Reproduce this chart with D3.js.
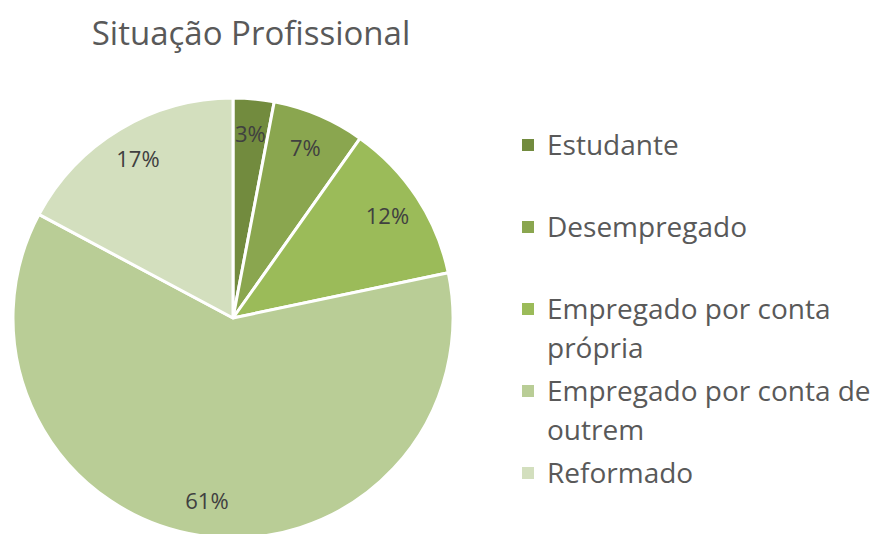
<!DOCTYPE html>
<html><head><meta charset="utf-8">
<script src="https://cdn.jsdelivr.net/npm/d3@7"></script>
<style>body{margin:0;background:#fff}svg{display:block}</style>
</head><body>
<svg id="c" width="878" height="534"></svg>
<script>
const title = "Situação Profissional";
const categories = ["Estudante","Desempregado","Empregado por conta própria","Empregado por conta de outrem","Reformado"];
const values = [3.0, 6.8, 11.9, 61.1, 17.2];
const pctLabels = ["3%","7%","12%","61%","17%"];
const legendLines = [["Estudante"],["Desempregado"],["Empregado por conta","própria"],["Empregado por conta de","outrem"],["Reformado"]];
const colors = ["#728b3e","#8aa64f","#9bbb59","#b9cd96","#d3dfbe"];

const svg = d3.select("#c");
const font = "'Open Sans', 'Liberation Sans', sans-serif";
const cx = 233, cy = 318, R = 220;

svg.append("text").attr("x", 251).attr("y", 45).attr("text-anchor","middle")
  .attr("font-family", font).attr("font-size", 33).attr("fill","#595959").text(title);

const pie = d3.pie().sort(null).value(d => d)(values);
const arc = d3.arc().innerRadius(0).outerRadius(R);
const labelArc = d3.arc().innerRadius(R*0.84).outerRadius(R*0.84);
const g = svg.append("g").attr("transform", `translate(${cx},${cy})`);
g.selectAll("path").data(pie).join("path")
  .attr("d", arc).attr("fill", (d,i) => colors[i])
  .attr("stroke","#fff").attr("stroke-width",3).attr("stroke-linejoin","round");
g.selectAll("text.lbl").data(pie).join("text").attr("class","lbl")
  .attr("transform", d => `translate(${labelArc.centroid(d)})`)
  .attr("text-anchor","middle").attr("dy","0.35em")
  .attr("font-family", font).attr("font-size", 22).attr("fill","#404040")
  .text((d,i) => pctLabels[i]);

const slot = 82, ly0 = 145, lineH = 39;
const lg = svg.append("g");
categories.forEach((c, i) => {
  const y = ly0 + i * slot;
  lg.append("rect").attr("x", 522).attr("y", y - 6).attr("width", 12).attr("height", 12).attr("fill", colors[i]);
  const t = lg.append("text").attr("font-family", font).attr("font-size", 28).attr("fill","#595959");
  legendLines[i].forEach((ln, j) => {
    t.append("tspan").attr("x", 547).attr("y", y + j * lineH).attr("dy","0.35em").text(ln);
  });
});
</script>
</body></html>
